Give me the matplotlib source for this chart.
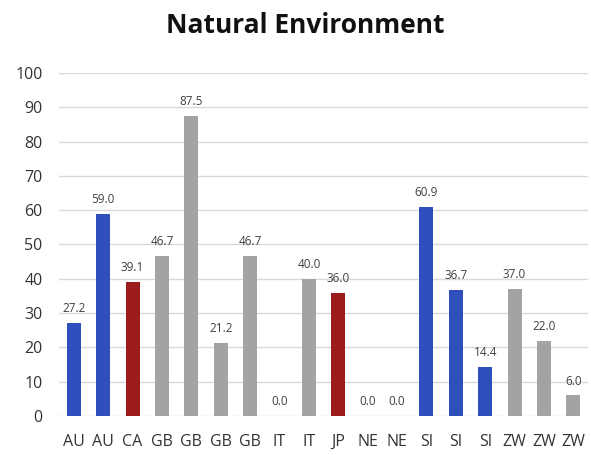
import matplotlib.pyplot as plt
import numpy as np

categories = ["AU", "AU", "CA", "GB", "GB", "GB", "GB", "IT", "IT", "JP",
              "NE", "NE", "SI", "SI", "SI", "ZW", "ZW", "ZW"]
values = [27.2, 59.0, 39.1, 46.7, 87.5, 21.2, 46.7, 0.0, 40.0, 36.0,
          0.0, 0.0, 60.9, 36.7, 14.4, 37.0, 22.0, 6.0]
groups = ["blue", "blue", "red", "gray", "gray", "gray", "gray", "gray", "gray", "red",
          "gray", "gray", "blue", "blue", "blue", "gray", "gray", "gray"]
palette = {"blue": "#2f4fbc", "red": "#9c1b1b", "gray": "#a3a3a3"}

plt.rcParams["font.family"] = ["Open Sans", "DejaVu Sans"]

fig = plt.figure(figsize=(5.91, 4.55), dpi=100)
ax = fig.add_axes([0.100, 0.0857, 0.895, 0.754])

x = np.arange(len(categories))
ax.bar(x, values, width=0.48, color=[palette[g] for g in groups], zorder=3)

for xi, v in zip(x, values):
    ax.text(xi, v + 2.3, f"{v:.1f}", ha="center", va="bottom",
            fontsize=8.5, color="#404040", zorder=4)

ax.set_xlim(-0.5, len(categories) - 0.5)
ax.set_ylim(0, 100)
ax.set_yticks(np.arange(0, 101, 10))
ax.set_xticks(x)
ax.set_xticklabels(categories)
ax.tick_params(axis="both", length=0, labelsize=11.5, colors="#333333")
ax.tick_params(axis="x", pad=13)
ax.tick_params(axis="y", pad=12)

ax.yaxis.grid(True, color="#d9d9d9", linewidth=1.0, zorder=0)
for s in ax.spines.values():
    s.set_visible(False)

fig.text(0.516, 0.945, "Natural Environment", ha="center", va="center",
         fontsize=19, fontweight="bold", color="#111111")

fig.savefig("out.png", dpi=100)
